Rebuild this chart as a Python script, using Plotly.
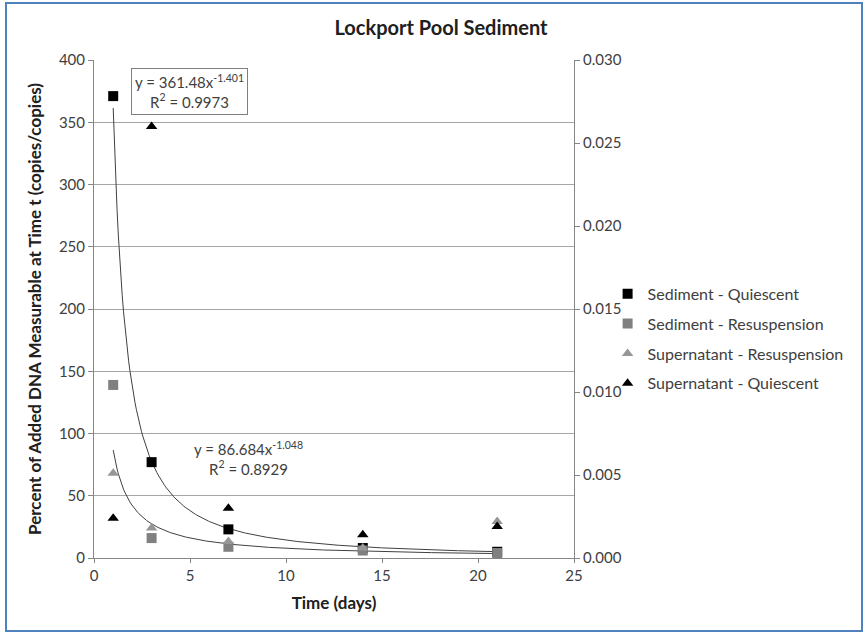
import numpy as np
import plotly.graph_objects as go

days = [1, 3, 7, 14, 21]
sed_quiescent = [371, 77, 23, 8, 5]
sed_resusp = [139, 16, 9, 6, 4]
sup_resusp = [0.0051, 0.0018, 0.0010, 0.0006, 0.0022]
sup_quiescent = [0.0024, 0.0260, 0.0030, 0.0014, 0.0019]

fit1_a, fit1_b = 361.48, -1.401
fit2_a, fit2_b = 86.684, -1.048

FONT = "Lato"
TXT = "#404040"

xs = np.linspace(1, 21, 300)

fig = go.Figure()
fig.add_trace(go.Scatter(x=xs, y=fit1_a * xs ** fit1_b, mode="lines",
                         line=dict(color="#404040", width=1), showlegend=False, hoverinfo="skip"))
fig.add_trace(go.Scatter(x=xs, y=fit2_a * xs ** fit2_b, mode="lines",
                         line=dict(color="#404040", width=1), showlegend=False, hoverinfo="skip"))
fig.add_trace(go.Scatter(x=days, y=sed_quiescent, mode="markers", name="Sediment - Quiescent",
                         legendgroup="a", marker=dict(symbol="square", size=10, color="black")))
fig.add_trace(go.Scatter(x=days, y=sed_resusp, mode="markers", name="Sediment - Resuspension",
                         legendgroup="b", marker=dict(symbol="square", size=10, color="#808080")))
fig.add_trace(go.Scatter(x=days, y=sup_resusp, mode="markers", name="Supernatant - Resuspension",
                         legendgroup="c", marker=dict(symbol="triangle-up", size=10, color="#969696"),
                         yaxis="y2"))
fig.add_trace(go.Scatter(x=days, y=sup_quiescent, mode="markers", name="Supernatant - Quiescent",
                         legendgroup="d", marker=dict(symbol="triangle-up", size=10, color="black"),
                         yaxis="y2"))

fig.update_layout(
    width=865, height=634,
    margin=dict(l=94, r=291, t=60, b=76),
    paper_bgcolor="white", plot_bgcolor="white",
    font=dict(family=FONT, size=15, color=TXT),
    title=dict(text="<b>Lockport Pool Sediment</b>", x=441 / 865, xanchor="center",
               y=1 - 28 / 634, yanchor="middle", font=dict(size=20, color="#202020")),
    xaxis=dict(range=[0, 25], dtick=5, showgrid=False, showline=True, linecolor="#868686",
               ticks="outside", ticklen=4, tickcolor="#868686", zeroline=False,
               tickfont=dict(size=15),
               title=dict(text="<b>Time (days)</b>", font=dict(size=17, color="#202020"), standoff=14)),
    yaxis=dict(range=[0, 400], dtick=50, showgrid=True, gridcolor="#a6a6a6", gridwidth=1,
               showline=True, linecolor="#868686", ticks="outside", ticklen=5, tickcolor="#868686",
               zeroline=False, tickfont=dict(size=15),
               title=dict(text="<b>Percent of Added DNA Measurable at Time t (copies/copies)</b>",
                          font=dict(size=17, color="#202020"), standoff=12)),
    yaxis2=dict(range=[0, 0.03], dtick=0.005, tickformat=".3f", overlaying="y", side="right",
                showgrid=False, showline=True, linecolor="#868686", ticks="outside", ticklen=5,
                tickcolor="#868686", zeroline=False, tickfont=dict(size=15)),
    legend=dict(x=1.07, y=0.44, xanchor="left", yanchor="middle", font=dict(size=16, color=TXT),
                itemwidth=30, tracegroupgap=6, bgcolor="rgba(0,0,0,0)"),
    showlegend=True,
)

fig.add_annotation(xref="paper", yref="paper", x=(189 - 94) / 480, y=(558 - 91) / 498,
                   xanchor="center", yanchor="middle",
                   text="y = 361.48x<sup>-1.401</sup><br>R<sup>2</sup> = 0.9973", showarrow=False,
                   font=dict(size=15, color=TXT), bordercolor="#7f7f7f", borderwidth=1, borderpad=3,
                   bgcolor="white", align="center")
fig.add_annotation(xref="paper", yref="paper", x=(248 - 94) / 480, y=(558 - 458) / 498,
                   xanchor="center", yanchor="middle",
                   text="y = 86.684x<sup>-1.048</sup><br>R<sup>2</sup> = 0.8929", showarrow=False,
                   font=dict(size=15, color=TXT), align="center")

fig.add_shape(type="rect", xref="paper", yref="paper",
              x0=(6 - 94) / 480, x1=(862 - 94) / 480, y0=(558 - 631) / 498, y1=(558 - 3) / 498,
              line=dict(color="#4f81bd", width=2), fillcolor="rgba(0,0,0,0)", layer="below")

fig.write_html("out.html")
